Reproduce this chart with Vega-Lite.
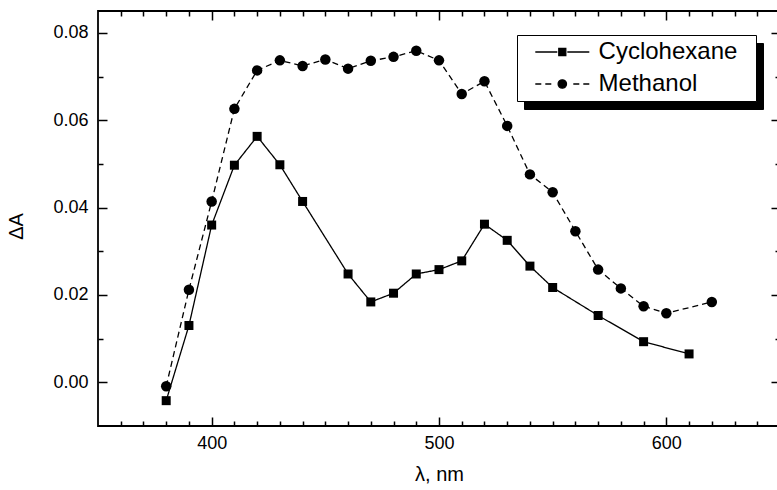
{
  "$schema": "https://vega.github.io/schema/vega-lite/v6.json",
  "autosize": {"type": "none"},
  "width": 682,
  "height": 415,
  "padding": {"left": 98, "top": 11, "right": -3, "bottom": 64},
  "background": "white",
  "data": {"values": [
    {"wl": 380, "dA": -0.0042, "solvent": "Cyclohexane"},
    {"wl": 390, "dA": 0.0130, "solvent": "Cyclohexane"},
    {"wl": 400, "dA": 0.0360, "solvent": "Cyclohexane"},
    {"wl": 410, "dA": 0.0497, "solvent": "Cyclohexane"},
    {"wl": 420, "dA": 0.0563, "solvent": "Cyclohexane"},
    {"wl": 430, "dA": 0.0498, "solvent": "Cyclohexane"},
    {"wl": 440, "dA": 0.0414, "solvent": "Cyclohexane"},
    {"wl": 460, "dA": 0.0248, "solvent": "Cyclohexane"},
    {"wl": 470, "dA": 0.0184, "solvent": "Cyclohexane"},
    {"wl": 480, "dA": 0.0204, "solvent": "Cyclohexane"},
    {"wl": 490, "dA": 0.0248, "solvent": "Cyclohexane"},
    {"wl": 500, "dA": 0.0258, "solvent": "Cyclohexane"},
    {"wl": 510, "dA": 0.0278, "solvent": "Cyclohexane"},
    {"wl": 520, "dA": 0.0362, "solvent": "Cyclohexane"},
    {"wl": 530, "dA": 0.0325, "solvent": "Cyclohexane"},
    {"wl": 540, "dA": 0.0266, "solvent": "Cyclohexane"},
    {"wl": 550, "dA": 0.0217, "solvent": "Cyclohexane"},
    {"wl": 570, "dA": 0.0153, "solvent": "Cyclohexane"},
    {"wl": 590, "dA": 0.0093, "solvent": "Cyclohexane"},
    {"wl": 610, "dA": 0.0065, "solvent": "Cyclohexane"},
    {"wl": 380, "dA": -0.0009, "solvent": "Methanol"},
    {"wl": 390, "dA": 0.0212, "solvent": "Methanol"},
    {"wl": 400, "dA": 0.0414, "solvent": "Methanol"},
    {"wl": 410, "dA": 0.0626, "solvent": "Methanol"},
    {"wl": 420, "dA": 0.0714, "solvent": "Methanol"},
    {"wl": 430, "dA": 0.0737, "solvent": "Methanol"},
    {"wl": 440, "dA": 0.0724, "solvent": "Methanol"},
    {"wl": 450, "dA": 0.0739, "solvent": "Methanol"},
    {"wl": 460, "dA": 0.0718, "solvent": "Methanol"},
    {"wl": 470, "dA": 0.0736, "solvent": "Methanol"},
    {"wl": 480, "dA": 0.0745, "solvent": "Methanol"},
    {"wl": 490, "dA": 0.0759, "solvent": "Methanol"},
    {"wl": 500, "dA": 0.0737, "solvent": "Methanol"},
    {"wl": 510, "dA": 0.0660, "solvent": "Methanol"},
    {"wl": 520, "dA": 0.0689, "solvent": "Methanol"},
    {"wl": 530, "dA": 0.0587, "solvent": "Methanol"},
    {"wl": 540, "dA": 0.0476, "solvent": "Methanol"},
    {"wl": 550, "dA": 0.0435, "solvent": "Methanol"},
    {"wl": 560, "dA": 0.0346, "solvent": "Methanol"},
    {"wl": 570, "dA": 0.0258, "solvent": "Methanol"},
    {"wl": 580, "dA": 0.0215, "solvent": "Methanol"},
    {"wl": 590, "dA": 0.0174, "solvent": "Methanol"},
    {"wl": 600, "dA": 0.0158, "solvent": "Methanol"},
    {"wl": 620, "dA": 0.0184, "solvent": "Methanol"}
  ]},
  "resolve": {"scale": {"shape": "independent"}, "axis": {"x": "independent", "y": "independent"}},
  "layer": [
    {
      "mark": {"type": "point", "filled": true, "color": "black", "stroke": "black", "opacity": 0, "size": 400},
      "encoding": {
        "x": {"field": "wl", "type": "quantitative", "scale": {"domain": [350, 650], "nice": false, "zero": false},
          "axis": {"orient": "top", "values": [360, 370, 380, 390, 410, 420, 430, 440, 450, 460, 470, 480, 490, 510, 520, 530, 540, 550, 560, 570, 580, 590, 610, 620, 630, 640], "tickSize": 5, "offset": -5, "labels": false, "title": null}},
        "y": {"field": "dA", "type": "quantitative", "scale": {"domain": [-0.01, 0.085], "nice": false, "zero": false},
          "axis": {"orient": "right", "values": [0.01, 0.03, 0.05, 0.07], "tickSize": 5, "offset": -5, "labels": false, "title": null}},
        "shape": {"field": "solvent", "type": "nominal",
          "scale": {"domain": ["Cyclohexane", "Methanol"], "range": ["M-2.7,0H-0.5M0.5,0H2.7M-0.35,-0.35H0.35V0.35H-0.35Z", "M-2.7,0H-2.1M-1.7,0H-1.1M1.1,0H1.7M2.1,0H2.7M-0.42,0A0.42,0.42,0,1,1,0.42,0A0.42,0.42,0,1,1,-0.42,0Z"]},
          "legend": {"title": null, "orient": "none", "legendX": 426, "legendY": 32, "fillColor": "black", "strokeColor": "black", "labelColor": "black", "labelOpacity": 0,
            "padding": 5, "rowPadding": 8, "labelOffset": 24.3, "symbolOffset": 28.3, "symbolSize": 400, "symbolStrokeWidth": 1.3,
            "symbolOpacity": 1,
            "labelFont": "Liberation Sans", "labelFontSize": 24,
            "labelExpr": "datum.label + '\u00a0\u00a0\u200b'"}}
      }
    },
    {
      "mark": {"type": "point", "filled": true, "color": "black", "stroke": "black", "opacity": 0, "size": 400},
      "encoding": {
        "x": {"field": "wl", "type": "quantitative", "scale": {"domain": [350, 650], "nice": false, "zero": false},
          "axis": {"orient": "top", "values": [400, 500, 600], "tickSize": 9, "offset": -9, "labels": false, "title": null}},
        "y": {"field": "dA", "type": "quantitative", "scale": {"domain": [-0.01, 0.085], "nice": false, "zero": false},
          "axis": {"orient": "right", "values": [0, 0.02, 0.04, 0.06, 0.08], "tickSize": 9, "offset": -9, "labels": false, "title": null}},
        "shape": {"field": "solvent", "type": "nominal",
          "scale": {"domain": ["Cyclohexane", "Methanol"], "range": ["M-2.7,0H-0.5M0.5,0H2.7M-0.35,-0.35H0.35V0.35H-0.35Z", "M-2.7,0H-2.1M-1.7,0H-1.1M1.1,0H1.7M2.1,0H2.7M-0.42,0A0.42,0.42,0,1,1,0.42,0A0.42,0.42,0,1,1,-0.42,0Z"]},
          "legend": {"title": null, "orient": "none", "legendX": 419, "legendY": 24, "fillColor": "white", "strokeColor": "black", "labelColor": "black",
            "padding": 5, "rowPadding": 8, "labelOffset": 24.3, "symbolOffset": 28.3, "symbolSize": 400, "symbolStrokeWidth": 1.3,
            "symbolOpacity": 1,
            "labelFont": "Liberation Sans", "labelFontSize": 24,
            "labelExpr": "datum.label + '\u00a0\u00a0\u200b'"}}
      }
    },
    {
      "mark": {"type": "line", "color": "black", "strokeWidth": 1.3},
      "encoding": {
        "x": {"field": "wl", "type": "quantitative", "scale": {"domain": [350, 650], "nice": false, "zero": false},
          "axis": {"orient": "bottom", "values": [400, 500, 600], "tickSize": 9, "offset": -9, "labelPadding": 8, "title": "λ, nm", "titlePadding": 12}},
        "y": {"field": "dA", "type": "quantitative", "scale": {"domain": [-0.01, 0.085], "nice": false, "zero": false},
          "axis": {"orient": "left", "values": [0, 0.02, 0.04, 0.06, 0.08], "format": ".2f", "tickSize": 9, "offset": -9, "labelPadding": 10, "title": "ΔA", "titlePadding": 26, "titleY": 215}},
        "strokeDash": {"field": "solvent", "type": "nominal", "scale": {"domain": ["Cyclohexane", "Methanol"], "range": [[1, 0], [6, 4]]}, "legend": null}
      }
    },
    {
      "mark": {"type": "point", "filled": true, "color": "black", "opacity": 1},
      "encoding": {
        "x": {"field": "wl", "type": "quantitative", "scale": {"domain": [350, 650], "nice": false, "zero": false},
          "axis": {"orient": "bottom", "values": [360, 370, 380, 390, 410, 420, 430, 440, 450, 460, 470, 480, 490, 510, 520, 530, 540, 550, 560, 570, 580, 590, 610, 620, 630, 640], "tickSize": 5, "offset": -5, "labels": false, "title": null}},
        "y": {"field": "dA", "type": "quantitative", "scale": {"domain": [-0.01, 0.085], "nice": false, "zero": false},
          "axis": {"orient": "left", "values": [0.01, 0.03, 0.05, 0.07], "tickSize": 5, "offset": -5, "labels": false, "title": null}},
        "shape": {"field": "solvent", "type": "nominal", "scale": {"domain": ["Cyclohexane", "Methanol"], "range": ["square", "circle"]}, "legend": null},
        "size": {"field": "solvent", "type": "ordinal", "scale": {"domain": ["Cyclohexane", "Methanol"], "range": [81, 110]}, "legend": null}
      }
    }
  ],
  "config": {
    "view": {"stroke": "black", "strokeWidth": 1.8},
    "font": "Liberation Sans",
    "axis": {"domain": false, "grid": false, "tickColor": "black", "tickWidth": 1.5,
      "labelFont": "Liberation Sans", "labelFontSize": 18, "labelColor": "black",
      "titleFont": "Liberation Sans", "titleFontSize": 20, "titleFontWeight": "normal", "titleColor": "black"}
  }
}
